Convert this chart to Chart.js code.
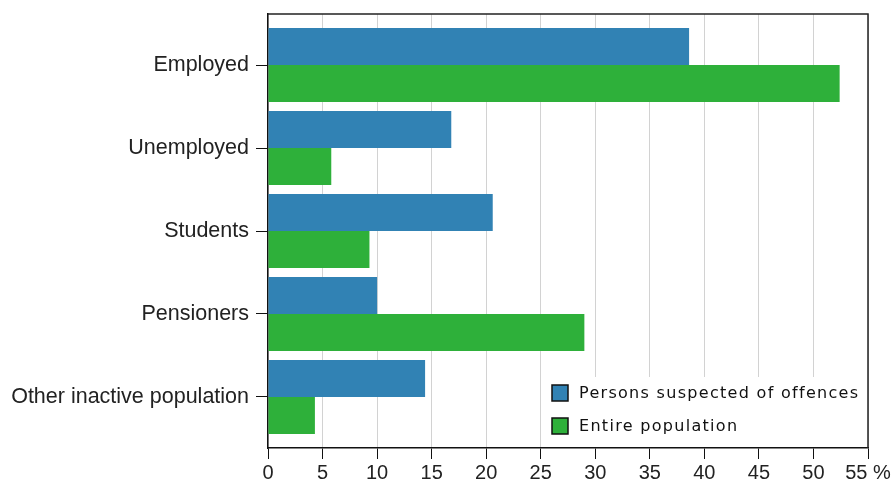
<!DOCTYPE html>
<html>
<head>
<meta charset="utf-8">
<script src="https://cdn.jsdelivr.net/npm/chart.js"></script>
<style>
  html, body { margin: 0; padding: 0; background: #fff; }
  #wrap { width: 894px; height: 486px; }
</style>
</head>
<body>
<div id="wrap"><canvas id="chart"></canvas></div>
<script>
// --- data ---
const categories = ['Employed', 'Unemployed', 'Students', 'Pensioners', 'Other inactive population'];
const suspected = [38.6, 16.8, 20.6, 10.0, 14.4];
const population = [52.4, 5.8, 9.3, 29.0, 4.3];
const seriesNames = ['Persons suspected of offences', 'Entire population'];
const xTicks = [0, 5, 10, 15, 20, 25, 30, 35, 40, 45, 50, 55];

const BLUE = '#3182b4';
const GREEN = '#2eb03a';

// legend drawn inside the plot, bottom right, on a white patch
const insideLegend = {
    id: 'insideLegend',
    afterDatasetsDraw(chart) {
        const { ctx, chartArea: a } = chart;
        ctx.save();
        ctx.fillStyle = '#fff';
        ctx.fillRect(545, 377, a.right - 545, a.bottom - 377 - 1);
        ctx.font = '16px "DejaVu Sans"';
        ctx.letterSpacing = '1.3px';
        ctx.textBaseline = 'middle';
        chart.data.datasets.forEach((ds, i) => {
            const y = 393 + i * 33;
            ctx.fillStyle = ds.backgroundColor;
            ctx.fillRect(552, y - 8, 16, 16);
            ctx.strokeStyle = '#111';
            ctx.lineWidth = 1.5;
            ctx.strokeRect(552, y - 8, 16, 16);
            ctx.fillStyle = '#111';
            ctx.fillText(ds.label, 579, y + 1);
        });
        ctx.restore();
    },
    afterDraw(chart) {
        // frame on top and right
        const { ctx, chartArea: a } = chart;
        ctx.save();
        ctx.strokeStyle = '#222';
        ctx.lineWidth = 1.5;
        ctx.beginPath();
        ctx.moveTo(a.left, a.top);
        ctx.lineTo(a.right, a.top);
        ctx.lineTo(a.right, a.bottom);
        ctx.stroke();
        ctx.restore();
    }
};

const toPoints = vals => vals.map((v, i) => ({ x: v, y: i }));

new Chart(document.getElementById('chart'), {
    type: 'bar',
    data: {
        datasets: [
            { label: seriesNames[0], data: toPoints(suspected), backgroundColor: BLUE },
            { label: seriesNames[1], data: toPoints(population), backgroundColor: GREEN }
        ]
    },
    options: {
        indexAxis: 'y',
        responsive: true,
        maintainAspectRatio: false,
        animation: false,
        layout: { padding: { top: 14, right: 26, left: 0, bottom: 0 } },
        datasets: { bar: { categoryPercentage: 0.89, barPercentage: 1 } },
        plugins: { legend: { display: false }, tooltip: { enabled: false } },
        scales: {
            x: {
                type: 'linear',
                min: 0, max: 55,
                afterBuildTicks: s => { s.ticks = xTicks.map(v => ({ value: v })); },
                afterFit: s => { s.height = 38; },
                grid: { color: '#d2d2d2', tickColor: '#111', tickLength: 11 },
                border: { color: '#111', width: 1.5 },
                ticks: {
                    color: '#222', padding: 2,
                    font: { family: 'Liberation Sans', size: 20 },
                    callback: v => v === 55 ? '55 %' : v
                }
            },
            y: {
                type: 'linear',
                reverse: true,
                offset: false,
                min: -0.615, max: 4.615,
                afterBuildTicks: s => { s.ticks = categories.map((c, i) => ({ value: i })); },
                afterFit: s => { s.width = 268; s.paddingTop = 0; s.paddingBottom = 0; },
                grid: { offset: false, drawOnChartArea: false, tickColor: '#111', tickLength: 12 },
                border: { color: '#111', width: 1.5 },
                ticks: {
                    color: '#222', padding: 7,
                    font: { family: 'Liberation Sans', size: 21.5 },
                    callback: v => categories[v]
                }
            }
        }
    },
    plugins: [insideLegend]
});
</script>
</body>
</html>
